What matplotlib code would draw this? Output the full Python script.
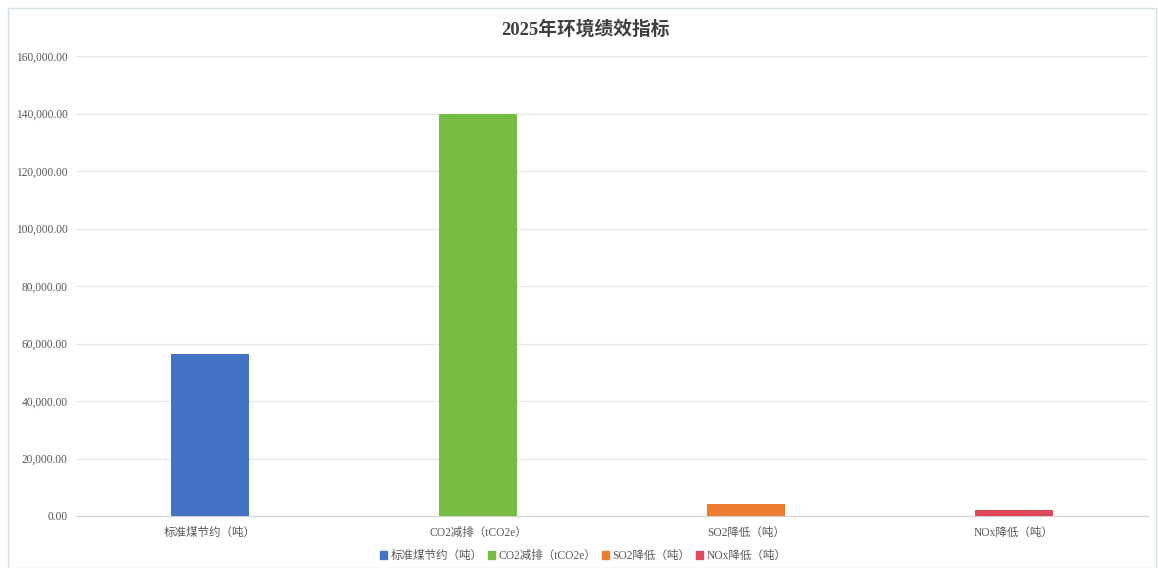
import matplotlib
matplotlib.use("Agg")
import matplotlib.pyplot as plt
from matplotlib.patches import Rectangle, Patch
from matplotlib.ticker import FuncFormatter

plt.rcParams['font.family'] = ['Liberation Serif', 'Noto Sans CJK SC']

categories = ['标准煤节约（吨）', 'CO2减排（tCO2e）', 'SO2降低（吨）', 'NOx降低（吨）']
values = [56300, 140000, 4200, 2000]
colors = ['#4472C4', '#77BD43', '#ED7D31', '#E0495B']
title = '2025年环境绩效指标'

fig = plt.figure(figsize=(11.58, 5.68), dpi=100)
# light chart border
fig.patches.append(Rectangle((8 / 1158, 0), 1148 / 1158, 560 / 568, transform=fig.transFigure,
                             fill=False, edgecolor='#D5E3E0', linewidth=1))

ax = fig.add_axes([76 / 1158, 52 / 568, 1072 / 1158, 460 / 568])
x = range(len(categories))
ax.bar(x, values, width=0.29, color=colors, zorder=3)

ax.set_xlim(-0.5, len(categories) - 0.5)
ax.set_ylim(0, 160000)
ax.set_yticks(range(0, 160001, 20000))
ax.yaxis.set_major_formatter(FuncFormatter(lambda v, p: f'{v:,.2f}'))
ax.set_xticks(list(x))
ax.set_xticklabels(categories)
ax.tick_params(axis='both', length=0, labelsize=8.3, colors='#595959')
ax.tick_params(axis='x', pad=8)
ax.tick_params(axis='y', pad=6)
ax.grid(axis='y', color='#E6E6E6', linewidth=0.9, zorder=0)
for side in ['top', 'right', 'left']:
    ax.spines[side].set_visible(False)
ax.spines['bottom'].set_color('#D0D0D0')

fig.text(585 / 1158, 1 - 29 / 568, title, ha='center', va='center',
         fontsize=13.5, fontweight='bold', color='#404040')

handles = [Patch(color=c, label=l) for c, l in zip(colors, categories)]
fig.legend(handles=handles, loc='center', bbox_to_anchor=(583 / 1158, 1 - 556 / 568),
           ncol=4, frameon=False, fontsize=8.3, handlelength=0.6, handleheight=0.6,
           handletextpad=0.3, columnspacing=0.5, labelcolor='#595959')

fig.savefig('out.png', dpi=100, facecolor='white')
